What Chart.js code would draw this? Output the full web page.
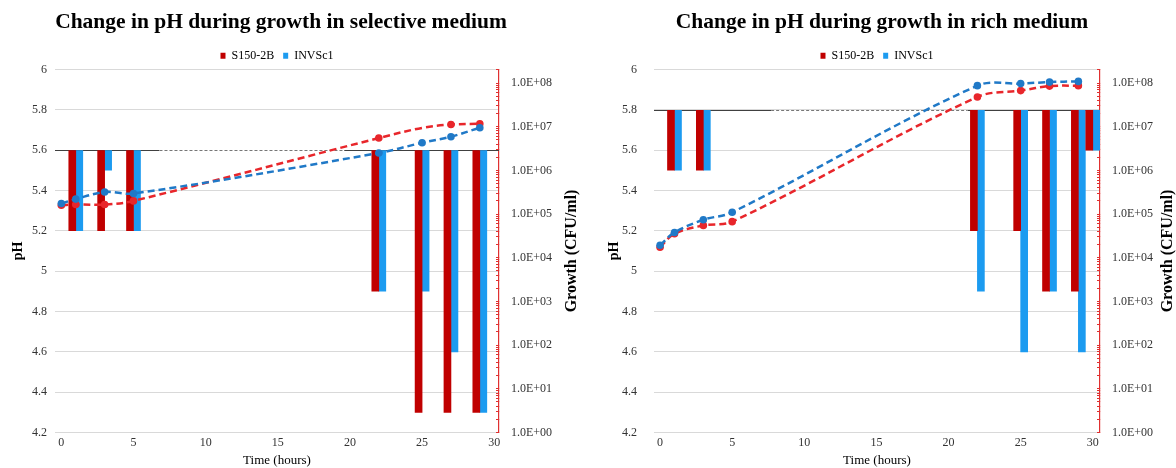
<!DOCTYPE html>
<html>
<head>
<meta charset="utf-8">
<script src="https://cdn.jsdelivr.net/npm/chart.js@4.4.1/dist/chart.umd.min.js"></script>
<style>
  html, body { margin: 0; padding: 0; background: #fff; overflow: hidden; }
  .panel { position: absolute; top: 0; height: 468px; }
  #p-sel  { left: -26px; width: 614px; }
  #p-rich { left: 588px; width: 588px; }
</style>
</head>
<body>
<div class="panel" id="p-sel"><canvas id="sel-chart" width="614" height="468"></canvas></div>
<div class="panel" id="p-rich"><canvas id="rich-chart" width="588" height="468"></canvas></div>

<script>
// pH bars hang from the starting pH, growth curves sit on the log axis

const strains = ['S150-2B', 'INVSc1'];
const sampleHours = [0, 1, 3, 5, 22, 25, 27, 29];

// selective medium
const selBarHours = [1, 3, 5, 22, 25, 27, 29];
const selPhS150   = [5.2, 5.2, 5.2, 4.9, 4.3, 4.3, 4.3];
const selPhInv    = [5.2, 5.5, 5.2, 4.9, 4.9, 4.6, 4.3];
const selCfuS150  = [1.6e5, 1.66e5, 1.65e5, 2.0e5, 5.5e6, 9.4e6, 1.12e7, 1.17e7];
const selCfuInv   = [1.74e5, 2.2e5, 3.2e5, 2.95e5, 2.5e6, 4.3e6, 5.9e6, 9.5e6];

// rich medium
const richBarHours = [1, 3, 22, 25, 27, 29, 30];
const richPhS150   = [5.5, 5.5, 5.2, 5.2, 4.9, 4.9, 5.6];
const richPhInv    = [5.5, 5.5, 4.9, 4.6, 4.9, 4.6, 5.6];
const richCfuS150  = [1.74e4, 3.55e4, 5.5e4, 6.7e4, 4.8e7, 6.7e7, 8.5e7, 8.7e7];
const richCfuInv   = [1.94e4, 3.8e4, 7.4e4, 1.1e5, 8.7e7, 9.7e7, 1.05e8, 1.09e8];

// right axis labels
const growthTicks      = [1, 10, 100, 1e3, 1e4, 1e5, 1e6, 1e7, 1e8];
const growthTickLabels = ['1.0E+00', '1.0E+01', '1.0E+02', '1.0E+03', '1.0E+04',
                          '1.0E+05', '1.0E+06', '1.0E+07', '1.0E+08'];

Chart.defaults.font.family = "'Liberation Serif', 'Times New Roman', serif";
Chart.defaults.color = '#333';

const RED_BAR = '#C00000', BLUE_BAR = '#1C9BF0';
const RED_LINE = '#E8262B', BLUE_LINE = '#2079C7';
const AXIS_RED = '#E03030';

// 1..9 x 10^e marks for the log axis (labels only on the decades)
function logTicks(max) {
  const out = [];
  for (let e = 0; Math.pow(10, e) <= max; e++) {
    for (let m = 1; m < 10; m++) {
      const v = m * Math.pow(10, e);
      if (v <= max) out.push({ value: v });
    }
  }
  return out;
}

// horizontal reference line at the starting pH, dashed through the middle
const phBaseline = {
  id: 'phBaseline',
  beforeDatasetsDraw(chart, args, opts) {
    const { ctx, chartArea: area, scales } = chart;
    const y = Math.round(scales.y.getPixelForValue(opts.value)) + 0.5;
    const xa = scales.x.getPixelForValue(opts.gap[0]);
    const xb = scales.x.getPixelForValue(opts.gap[1]);
    ctx.save();
    ctx.lineWidth = 1;
    ctx.strokeStyle = '#404040';
    ctx.beginPath();
    ctx.moveTo(area.left, y);  ctx.lineTo(xa, y);
    ctx.moveTo(xb, y);         ctx.lineTo(area.right, y);
    ctx.stroke();
    ctx.strokeStyle = '#fff';
    ctx.beginPath(); ctx.moveTo(xa, y); ctx.lineTo(xb, y); ctx.stroke();
    ctx.setLineDash([3, 2]);
    ctx.strokeStyle = '#777';
    ctx.beginPath(); ctx.moveTo(xa, y); ctx.lineTo(xb, y); ctx.stroke();
    ctx.restore();
  }
};

// right axis title reads bottom-to-top, so it is drawn here
const growthTitle = {
  id: 'growthTitle',
  afterDraw(chart, args, opts) {
    const { ctx, chartArea: area } = chart;
    const s = chart.scales.g;
    ctx.save();
    ctx.translate(s.right - opts.offset, (area.top + area.bottom) / 2);
    ctx.rotate(-Math.PI / 2);
    ctx.font = "bold 16px 'Liberation Serif', 'Times New Roman', serif";
    ctx.fillStyle = '#000';
    ctx.textAlign = 'center';
    ctx.textBaseline = 'middle';
    ctx.fillText(opts.text, 0, 0);
    ctx.restore();
  }
};

function buildChart(id, o) {
  const bar = (label, ph, color) => ({
    type: 'bar', label, yAxisID: 'y', order: 3,
    data: o.barHours.map((h, i) => ({ x: h, y: ph[i] })),
    base: o.baseline,
    backgroundColor: color, borderWidth: 0, barThickness: 7,
  });
  const line = (label, cfu, color, order, radius) => ({
    type: 'line', label, yAxisID: 'g', order,
    data: sampleHours.map((h, i) => ({ x: h, y: cfu[i] })),
    borderColor: color, backgroundColor: color,
    borderWidth: 2.5, borderDash: [7, 4],
    pointRadius: radius, pointHoverRadius: radius, pointBorderWidth: 0,
    tension: 0.35, fill: false,
  });

  return new Chart(document.getElementById(id), {
    type: 'bar',
    data: {
      datasets: [
        bar(strains[0], o.phA, RED_BAR),
        bar(strains[1], o.phB, BLUE_BAR),
        line(strains[0], o.cfuA, RED_LINE, 2, o.radiusA),
        line(strains[1], o.cfuB, BLUE_LINE, 1, 3.8),
      ],
    },
    options: {
      responsive: false,
      animation: false,
      layout: { padding: 0 },
      plugins: {
        title: {
          display: true, text: o.title, color: '#000',
          font: { size: 21.5, weight: 'bold' },
          padding: { top: 10, bottom: 5 },
        },
        legend: {
          fullSize: false,
          maxHeight: 28.6,
          labels: {
            filter: item => item.datasetIndex < 2,
            boxWidth: 5, boxHeight: 6, padding: 9,
            color: '#000', font: { size: 12 },
          },
        },
        tooltip: { enabled: false },
        phBaseline: { value: o.baseline, gap: o.dashGap },
        growthTitle: { text: 'Growth (CFU/ml)', offset: o.growthTitleOffset },
      },
      scales: {
        x: {
          type: 'linear', offset: false, min: o.xRange[0], max: o.xRange[1],
          grid: { display: false, drawTicks: false }, border: { display: false },
          ticks: { stepSize: 5, includeBounds: false, padding: 3, font: { size: 12 } },
          title: { display: true, text: 'Time (hours)', color: '#000', font: { size: 13 }, padding: 0 },
          afterFit: s => { s.height = 35.5; },
        },
        y: {
          position: 'left', min: 4.2, max: 6,
          grid: { color: '#D9D9D9', drawTicks: false },
          border: { display: false },
          ticks: { stepSize: 0.2, padding: o.phTickPad, font: { size: 12 },
                   callback: v => String(Math.round(v * 10) / 10) },
          title: { display: true, text: 'pH', color: '#000',
                   font: { size: 14, weight: 'bold' }, padding: { top: o.phTitlePad, bottom: 0 } },
          afterFit: s => { s.width = o.leftWidth; },
        },
        g: {
          type: 'logarithmic', position: 'right', min: 1, max: 2.05e8,
          grid: { drawOnChartArea: false, tickLength: -3, tickColor: AXIS_RED },
          border: { color: AXIS_RED, width: 1.2 },
          ticks: {
            autoSkip: false, padding: 15, font: { size: 12 },
            callback: v => {
              const i = growthTicks.indexOf(v);
              return i < 0 ? '' : growthTickLabels[i];
            },
          },
          afterBuildTicks: s => { s.ticks = logTicks(s.max); },
          afterFit: s => { s.width = o.rightWidth; },
        },
      },
    },
    plugins: [phBaseline, growthTitle],
  });
}

buildChart('sel-chart', {
  title: 'Change in pH during growth in selective medium',
  barHours: selBarHours, phA: selPhS150, phB: selPhInv,
  cfuA: selCfuS150, cfuB: selCfuInv,
  radiusA: [3.8, 3.8, 3.8, 3.8, 3.8, 0, 3.8, 3.8],
  baseline: 5.6, dashGap: [6.8, 19.6],
  xRange: [-0.44, 30.33],
  leftWidth: 81, phTickPad: 8, phTitlePad: 36,
  rightWidth: 89, growthTitleOffset: 16,
});

buildChart('rich-chart', {
  title: 'Change in pH during growth in rich medium',
  barHours: richBarHours, phA: richPhS150, phB: richPhInv,
  cfuA: richCfuS150, cfuB: richCfuInv,
  radiusA: 3.8,
  baseline: 5.8, dashGap: [7.7, 21.3],
  xRange: [-0.42, 30.5],
  leftWidth: 66, phTickPad: 17, phTitlePad: 17.6,
  rightWidth: 76, growthTitleOffset: 8,
});
</script>
</body>
</html>
